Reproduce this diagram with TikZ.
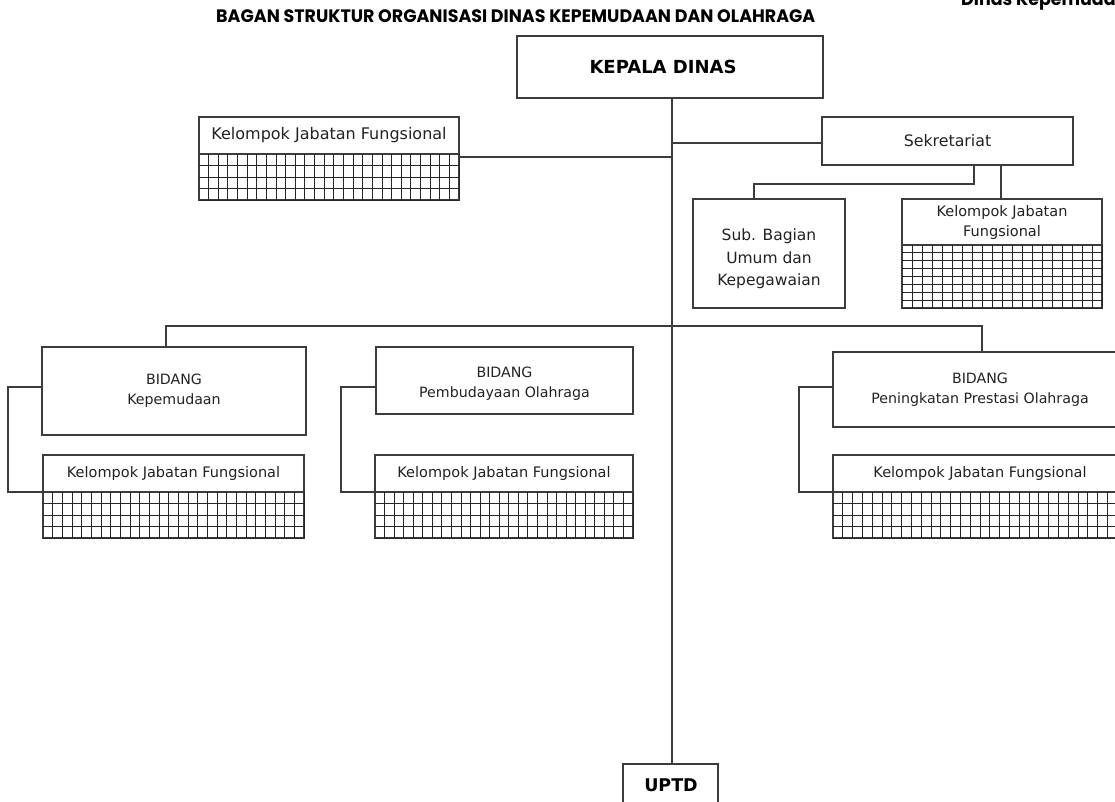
\documentclass[tikz,border=0pt]{standalone}
\usepackage{fontspec}
\setmainfont{DejaVu Sans}
\newfontfamily\popfont{Poppins}
\definecolor{linec}{HTML}{3C3C3C}
\definecolor{txtc}{HTML}{222222}
\newcommand\kgrid[6]{%
  \foreach \i in {1,...,#5} \draw[gridline] ({#1+(#3-#1)*\i/#5},#2) -- ({#1+(#3-#1)*\i/#5},#4);
  \foreach \j in {1,...,#6} \draw[gridline] (#1,{#2+(#4-#2)*\j/#6}) -- (#3,{#2+(#4-#2)*\j/#6});
}
\begin{document}
\begin{tikzpicture}[x=1pt,y=-1pt,
  box/.style={draw=linec, line width=1.1pt, inner sep=0pt, outer sep=0pt, align=center, text=txtc,
    font=\fontsize{15.5}{21.5}\selectfont},
  smallbox/.style={box, font=\fontsize{14.5}{20}\selectfont},
  bidbox/.style={box, font=\fontsize{14.2}{20}\selectfont},
  boldbox/.style={box, font=\bfseries\fontsize{18}{20}\selectfont, text=black},
  lbl/.style={inner sep=0pt, align=center, text=txtc},
  conn/.style={draw=linec, line width=1.1pt},
  gridline/.style={draw=black!85, line width=0.9pt}]
\useasboundingbox (0,0) rectangle (1115,802);
\clip (0,0) rectangle (1115,802);
\fill[white] (0,0) rectangle (1115,802);

% titles
\node[anchor=base west, inner sep=0pt, font=\popfont\bfseries\fontsize{18}{18}\selectfont] (title) at (216,23)
  {\scalebox{0.97}[1]{BAGAN STRUKTUR ORGANISASI DINAS KEPEMUDAAN DAN OLAHRAGA}};
\node[anchor=base west, inner sep=0pt, font=\popfont\bfseries\fontsize{18}{18}\selectfont] (corner) at (961,6)
  {\scalebox{0.97}[1]{Dinas Kepemudaan dan Olahraga}};

% head
\node[boldbox, minimum width=306pt, minimum height=62pt] (kd) at (670,67) {\hspace*{-14pt}KEPALA DINAS};
\node[box, minimum width=95pt, minimum height=70pt, anchor=north] (uptd) at (670.5,764) {};
\node[anchor=center, inner sep=0pt, font=\bfseries\fontsize{17.5}{20}\selectfont] (uptdlabel) at (671,785.5) {UPTD};

% kelompok top-left
\node[box, minimum width=260pt, minimum height=37pt, anchor=north west, font=\fontsize{16}{20}\selectfont] (kjf1) at (199,117) {Kelompok Jabatan Fungsional};
\node[box, minimum width=260pt, minimum height=46pt, anchor=north west] (kjf1g) at (199,154) {};
\kgrid{199}{154}{459}{200}{27}{4}

% sekretariat
\node[box, minimum width=251pt, minimum height=48pt, anchor=north west, font=\fontsize{15.8}{20}\selectfont] (sek) at (822,117) {Sekretariat};
\node[box, minimum width=152pt, minimum height=109pt, anchor=north west] (sub) at (693,199) {};
\node[lbl, font=\fontsize{15.5}{22.5}\selectfont] (sublabel) at (769,259) {Sub. Bagian\\Umum dan\\Kepegawaian};
\node[smallbox, minimum width=200pt, minimum height=46pt, anchor=north west] (kjf2) at (902,199) {Kelompok Jabatan\\Fungsional};
\node[box, minimum width=200pt, minimum height=63pt, anchor=north west] (kjf2g) at (902,245) {};
\kgrid{902}{245}{1102}{308}{20}{8}

% bidang
\node[bidbox, minimum width=264pt, minimum height=88pt, anchor=north west] (b1) at (42,347) {BIDANG\\Kepemudaan};
\node[smallbox, minimum width=261pt, minimum height=37pt, anchor=north west] (k1) at (43,455) {Kelompok Jabatan Fungsional};
\node[box, minimum width=261pt, minimum height=46pt, anchor=north west] (k1g) at (43,492) {};
\kgrid{43}{492}{304}{538}{27}{4}

\node[box, minimum width=257pt, minimum height=67pt, anchor=north west] (b2) at (376,347) {};
\node[lbl, font=\fontsize{14.2}{20}\selectfont] (b2label) at (504.5,384) {BIDANG\\Pembudayaan Olahraga};
\node[smallbox, minimum width=258pt, minimum height=37pt, anchor=north west] (k2) at (375,455) {Kelompok Jabatan Fungsional};
\node[box, minimum width=258pt, minimum height=46pt, anchor=north west] (k2g) at (375,492) {};
\kgrid{375}{492}{633}{538}{27}{4}

\node[bidbox, minimum width=294pt, minimum height=75pt, anchor=north west] (b3) at (833,352) {BIDANG\\Peningkatan Prestasi Olahraga};
\node[smallbox, minimum width=294pt, minimum height=37pt, anchor=north west] (k3) at (833,455) {Kelompok Jabatan Fungsional};
\node[box, minimum width=294pt, minimum height=46pt, anchor=north west] (k3g) at (833,492) {};
\kgrid{833}{492}{1127}{538}{30}{4}

% connectors
\coordinate (bus) at (672,326);
\coordinate (jl) at (459,157);
\draw[conn] (kd.south -| bus) -- (uptd.north -| bus);
\draw[conn] (jl) -- (jl -| bus);
\draw[conn] (bus |- 0,143) -- (sek.west |- 0,143);
\coordinate (d1) at (166,347);
\coordinate (d3) at (982,352);
\draw[conn] (d1) |- (bus) -| (d3);
\coordinate (s1) at (974,165);
\coordinate (s1b) at (754,199);
\draw[conn] (s1) |- (754,184) -- (s1b);
\coordinate (s2) at (1001,165);
\draw[conn] (s2) -- (s2 |- kjf2.north);
\draw[conn] (b1.west |- 0,387) -| (8,492) -- (k1.south west);
\draw[conn] (b2.west |- 0,387) -| (341,492) -- (k2.south west);
\draw[conn] (b3.west |- 0,387) -| (799,492) -- (k3.south west);
\end{tikzpicture}
\end{document}
